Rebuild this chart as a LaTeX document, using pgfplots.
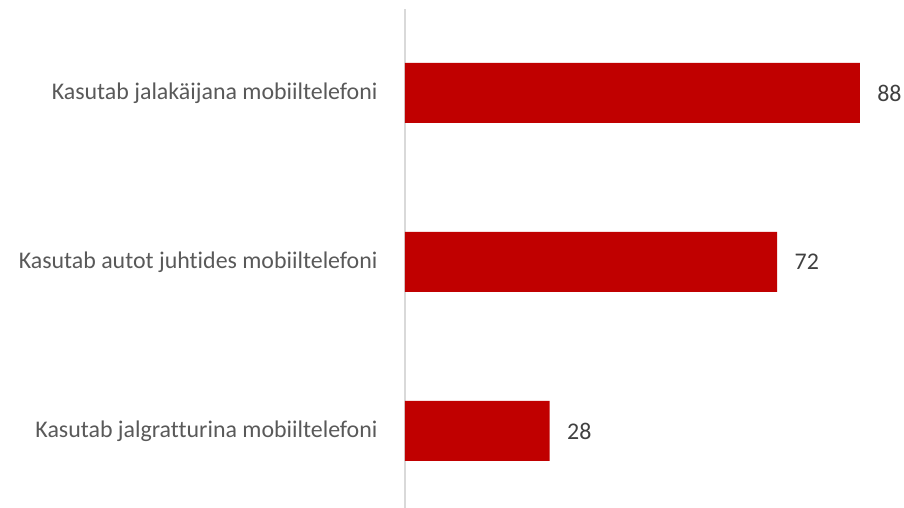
\documentclass[border=0pt]{standalone}
\usepackage{pgfplots}
\pgfplotsset{compat=1.18}
\usepackage{fontspec}
\setmainfont{Carlito}[Ligatures={NoCommon}]
\definecolor{barred}{HTML}{C00000}
\definecolor{lbl}{HTML}{595959}
\definecolor{num}{HTML}{404040}
\definecolor{axl}{HTML}{D9D9D9}
\begin{document}
\begin{tikzpicture}
\useasboundingbox (-405bp,0) rectangle (499bp,508bp);
\begin{axis}[
  at={(0,0)}, anchor=south west,
  scale only axis, width=491bp, height=499bp,
  xbar, xmin=0, xmax=95,
  y dir=reverse, ymin=-0.497, ymax=2.456,
  bar width=0.355,
  axis x line=none,
  axis y line=left,
  y axis line style={-, draw=axl, line width=1.5bp},
  ytick={0,1,2},
  yticklabels={Kasutab jalakäijana mobiiltelefoni, Kasutab autot juhtides mobiiltelefoni, Kasutab jalgratturina mobiiltelefoni},
  major tick length=0pt,
  yticklabel style={font=\fontsize{24}{26}\selectfont, text=lbl, xshift=-24bp},
  nodes near coords,
  every node near coord/.append style={font=\fontsize{24}{26}\selectfont, text=num, anchor=west, xshift=14bp},
  point meta=explicit symbolic,
  clip=false,
]
\addplot[fill=barred, draw=none] coordinates {(88,0) [88] (72,1) [72] (28,2) [28]};
\end{axis}
\end{tikzpicture}
\end{document}
